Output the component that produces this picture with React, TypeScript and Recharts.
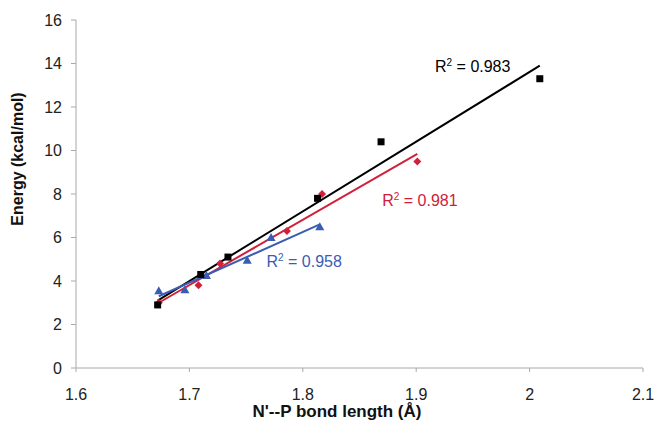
import React from "react";
import { ScatterChart, Scatter, XAxis, YAxis, Label } from "recharts";

// Series values
const blackX = [1.672, 1.71, 1.734, 1.813, 1.869, 2.009];
const blackY = [2.9, 4.3, 5.1, 7.8, 10.4, 13.3];
const redX = [1.673, 1.708, 1.727, 1.786, 1.817, 1.901];
const redY = [3.0, 3.8, 4.8, 6.3, 8.0, 9.5];
const blueX = [1.673, 1.696, 1.715, 1.751, 1.772, 1.815];
const blueY = [3.55, 3.6, 4.25, 4.95, 6.0, 6.5];

// Trend line end points
const blackFitX = [1.672, 2.009];
const blackFitY = [3.1, 13.9];
const redFitX = [1.673, 1.901];
const redFitY = [3.0, 9.85];
const blueFitX = [1.673, 1.815];
const blueFitY = [3.3, 6.6];

const r2Labels = ["0.983", "0.981", "0.958"];

const xTicks = [1.6, 1.7, 1.8, 1.9, 2, 2.1];
const yTicks = [0, 2, 4, 6, 8, 10, 12, 14, 16];

const xTitle = "N'--P bond length (Å)";
const yTitle = "Energy (kcal/mol)";

const BLACK = "#000000";
const RED = "#d0203a";
const BLUE = "#3a5cb3";
const AXIS = "#a8a8a8";
const FONT = "'Liberation Sans', Arial, sans-serif";

const zip = (xs: number[], ys: number[]) => xs.map((x, i) => ({ x, y: ys[i] }));

const blackData = zip(blackX, blackY);
const redData = zip(redX, redY);
const blueData = zip(blueX, blueY);
const blackFit = zip(blackFitX, blackFitY);
const redFit = zip(redFitX, redFitY);
const blueFit = zip(blueFitX, blueFitY);

const Square = (p: any) => (
  <rect x={p.cx - 3.5} y={p.cy - 3.5} width={7} height={7} fill={BLACK} />
);
const Diamond = (p: any) => (
  <polygon
    points={`${p.cx},${p.cy - 4} ${p.cx + 4},${p.cy} ${p.cx},${p.cy + 4} ${p.cx - 4},${p.cy}`}
    fill={RED}
  />
);
const Triangle = (p: any) => (
  <polygon
    points={`${p.cx},${p.cy - 4.5} ${p.cx + 4.5},${p.cy + 3.5} ${p.cx - 4.5},${p.cy + 3.5}`}
    fill={BLUE}
  />
);
const NoShape = () => <g />;

const makeR2 = (value: string, color: string) => (p: any) => (
  <text x={p.cx} y={p.cy} fill={color} fontSize={16} fontFamily={FONT}>
    R
    <tspan dy={-6} fontSize={10}>2</tspan>
    <tspan dy={6}>{` = ${value}`}</tspan>
  </text>
);

export default function App() {
  return (
    <div style={{ position: "absolute", left: 0, top: 0, background: "#fff" }}>
      <ScatterChart
        width={655}
        height={422}
        margin={{ top: 20, right: 12, left: 0, bottom: 0 }}
        style={{ fontFamily: FONT }}
      >
        <XAxis
          dataKey="x"
          type="number"
          domain={[1.6, 2.1]}
          ticks={xTicks}
          height={54}
          stroke={AXIS}
          tickSize={4}
          tickMargin={17}
          tick={{ fill: "#222", fontSize: 16, fontFamily: FONT }}
          tickLine={{ stroke: AXIS }}
          axisLine={{ stroke: AXIS }}
          allowDataOverflow
        >
          <Label
            content={(props: any) => {
              const vb = props.viewBox;
              return (
                <text
                  x={vb.x + 261}
                  y={vb.y + 49}
                  textAnchor="middle"
                  fontSize={17}
                  fontWeight="bold"
                  fontFamily={FONT}
                  fill="#111"
                >
                  {xTitle}
                </text>
              );
            }}
          />
        </XAxis>
        <YAxis
          dataKey="y"
          type="number"
          domain={[0, 16]}
          ticks={yTicks}
          width={76}
          stroke={AXIS}
          tickSize={5}
          tickMargin={9}
          tick={{ fill: "#222", fontSize: 16, fontFamily: FONT }}
          tickLine={{ stroke: AXIS }}
          axisLine={{ stroke: AXIS }}
          allowDataOverflow
        >
          <Label
            content={(props: any) => {
              const vb = props.viewBox;
              return (
                <text
                  transform={`translate(${vb.x + 23}, ${vb.y + 139}) rotate(-90)`}
                  textAnchor="middle"
                  fontSize={16}
                  fontWeight="bold"
                  fontFamily={FONT}
                  fill="#111"
                >
                  {yTitle}
                </text>
              );
            }}
          />
        </YAxis>

        <Scatter data={blackFit} line={{ stroke: BLACK, strokeWidth: 2 }} shape={NoShape} isAnimationActive={false} />
        <Scatter data={redFit} line={{ stroke: RED, strokeWidth: 2 }} shape={NoShape} isAnimationActive={false} />
        <Scatter data={blueFit} line={{ stroke: BLUE, strokeWidth: 2 }} shape={NoShape} isAnimationActive={false} />

        <Scatter data={blueData} shape={Triangle} isAnimationActive={false} />
        <Scatter data={redData} shape={Diamond} isAnimationActive={false} />
        <Scatter data={blackData} shape={Square} isAnimationActive={false} />

        <Scatter data={[{ x: 1.9166, y: 13.61 }]} shape={makeR2(r2Labels[0], BLACK)} isAnimationActive={false} />
        <Scatter data={[{ x: 1.87, y: 7.45 }]} shape={makeR2(r2Labels[1], RED)} isAnimationActive={false} />
        <Scatter data={[{ x: 1.768, y: 4.64 }]} shape={makeR2(r2Labels[2], BLUE)} isAnimationActive={false} />
      </ScatterChart>
    </div>
  );
}
